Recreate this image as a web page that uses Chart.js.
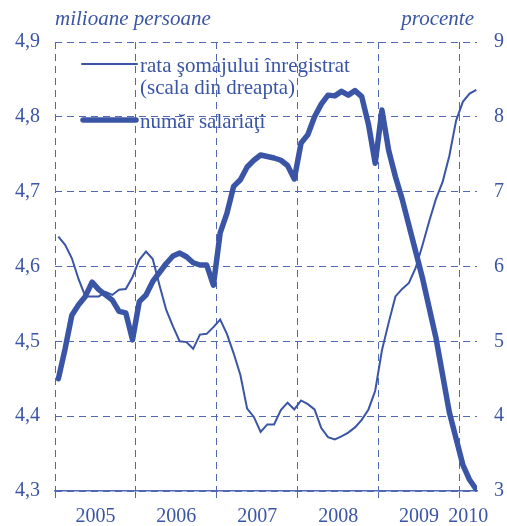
<!DOCTYPE html>
<html>
<head>
<meta charset="utf-8">
<script src="https://cdn.jsdelivr.net/npm/chart.js@4/dist/chart.umd.min.js"></script>
<style>
  html, body { margin: 0; padding: 0; background: #fff; }
</style>
</head>
<body>
<canvas id="myChart" width="507" height="526"></canvas>
<script>
// monthly data, Jan 2005 - Mar 2010
const years = ['2005', '2006', '2007', '2008', '2009', '2010'];

// rata somajului inregistrat, % (right scale)
const unemploymentRate = [
    6.40, 6.29, 6.11, 5.83, 5.60, 5.60, 5.60, 5.66, 5.62, 5.69, 5.70, 5.86,
    6.09, 6.20, 6.10, 5.75, 5.42, 5.20, 5.00, 4.99, 4.90, 5.09, 5.10, 5.19,
    5.29, 5.10, 4.84, 4.55, 4.10, 3.99, 3.79, 3.89, 3.89, 4.08, 4.18, 4.09,
    4.21, 4.16, 4.09, 3.84, 3.72, 3.69, 3.73, 3.78, 3.85, 3.95, 4.09, 4.34,
    4.88, 5.25, 5.60, 5.70, 5.78, 5.98, 6.28, 6.60, 6.90, 7.13, 7.48, 7.95,
    8.20, 8.31, 8.36
];

// numar salariati, milioane persoane (left scale)
const employees = [
    4.450, 4.490, 4.535, 4.549, 4.560, 4.579, 4.569, 4.562, 4.555, 4.540, 4.538, 4.502,
    4.553, 4.562, 4.580, 4.592, 4.604, 4.614, 4.618, 4.613, 4.605, 4.602, 4.602, 4.575,
    4.645, 4.671, 4.707, 4.716, 4.733, 4.742, 4.749, 4.747, 4.745, 4.742, 4.735, 4.717,
    4.765, 4.776, 4.800, 4.817, 4.829, 4.828, 4.834, 4.829, 4.835, 4.827, 4.790, 4.738,
    4.809, 4.755, 4.720, 4.690, 4.655, 4.620, 4.585, 4.545, 4.505, 4.455, 4.405, 4.370,
    4.335, 4.315, 4.302
];

const seriesLabels = [['rata şomajului înregistrat', '(scala din dreapta)'], ['număr salariaţi']];
const unitLeft = 'milioane persoane';
const unitRight = 'procente';

const blue = '#3a55a5';
const gridBlue = '#5068b2';
const font = 'Liberation Serif';

// x ticks: year boundaries (grid) + year middles (labels)
const yearStarts = [0, 12, 24, 36, 48, 60];
const yearMids = [6, 18, 30, 42, 54, 61.3];

function points(arr) {
    return arr.map((v, i) => ({ x: i + 0.5, y: v }));
}

// titles above both axes + legend inside the plot
const extras = {
    id: 'extras',
    afterDraw(chart) {
        const ctx = chart.ctx;
        const area = chart.chartArea;
        ctx.save();
        ctx.fillStyle = blue;
        ctx.textBaseline = 'alphabetic';
        ctx.font = 'italic 21px "' + font + '"';
        ctx.textAlign = 'left';
        ctx.fillText(unitLeft, area.left, 25);
        ctx.textAlign = 'right';
        ctx.fillText(unitRight, area.right - 3, 25);

        // legend
        ctx.strokeStyle = blue;
        ctx.lineCap = 'round';
        ctx.lineWidth = 2;
        ctx.beginPath(); ctx.moveTo(82, 64); ctx.lineTo(137, 64); ctx.stroke();
        ctx.lineWidth = 5.5;
        ctx.beginPath(); ctx.moveTo(83, 120); ctx.lineTo(136, 120); ctx.stroke();

        ctx.font = '21px "' + font + '"';
        ctx.textAlign = 'left';
        ctx.fillText(seriesLabels[0][0], 140, 72);
        ctx.fillText(seriesLabels[0][1], 140, 94);
        ctx.fillText(seriesLabels[1][0], 140, 128);
        ctx.restore();
    }
};

const myChart = new Chart(document.getElementById('myChart').getContext('2d'), {
    type: 'line',
    data: {
        datasets: [{
            label: seriesLabels[0].join(' '),
            data: points(unemploymentRate),
            yAxisID: 'yRight',
            borderColor: blue,
            borderWidth: 2,
            pointRadius: 0,
            tension: 0
        }, {
            label: seriesLabels[1][0],
            data: points(employees),
            yAxisID: 'yLeft',
            borderColor: blue,
            borderWidth: 5.5,
            borderJoinStyle: 'round',
            borderCapStyle: 'round',
            pointRadius: 0,
            tension: 0
        }]
    },
    plugins: [extras],
    options: {
        responsive: false,
        animation: false,
        layout: { padding: { top: 42, left: 0, right: 0, bottom: 0 } },
        plugins: {
            legend: { display: false },
            tooltip: { enabled: false }
        },
        scales: {
            x: {
                type: 'linear',
                min: 0,
                max: 62.6,
                afterBuildTicks: (scale) => {
                    scale.ticks = yearStarts.concat(yearMids).sort((a, b) => a - b).map(v => ({ value: v }));
                },
                afterFit: (scale) => { scale.height = 35; },
                grid: {
                    color: (c) => (c.tick && yearStarts.includes(c.tick.value)) ? gridBlue : 'rgba(0,0,0,0)',
                    tickColor: (c) => (c.tick && yearStarts.includes(c.tick.value)) ? gridBlue : 'rgba(0,0,0,0)',
                    lineWidth: 1,
                    tickLength: 7
                },
                border: { display: true, color: gridBlue, width: 1.5, dash: [7, 5] },
                ticks: {
                    autoSkip: false,
                    maxRotation: 0,
                    padding: 7,
                    color: blue,
                    font: { family: font, size: 20 },
                    callback: (v) => {
                        const k = yearMids.indexOf(v);
                        return k >= 0 ? years[k] : '';
                    }
                }
            },
            yLeft: {
                position: 'left',
                min: 4.3,
                max: 4.9,
                afterFit: (scale) => { scale.width = 55; },
                grid: { color: gridBlue, lineWidth: 1, drawTicks: false },
                border: { display: false, dash: [7, 5] },
                ticks: {
                    stepSize: 0.1,
                    padding: 15,
                    color: blue,
                    font: { family: font, size: 20 },
                    callback: (v) => v.toFixed(1).replace('.', ',')
                }
            },
            yRight: {
                position: 'right',
                min: 3,
                max: 9,
                afterFit: (scale) => { scale.width = 30; },
                grid: { display: false, drawTicks: false },
                border: { display: false },
                ticks: {
                    stepSize: 1,
                    padding: 17,
                    color: blue,
                    font: { family: font, size: 20 }
                }
            }
        }
    }
});
</script>
</body>
</html>
